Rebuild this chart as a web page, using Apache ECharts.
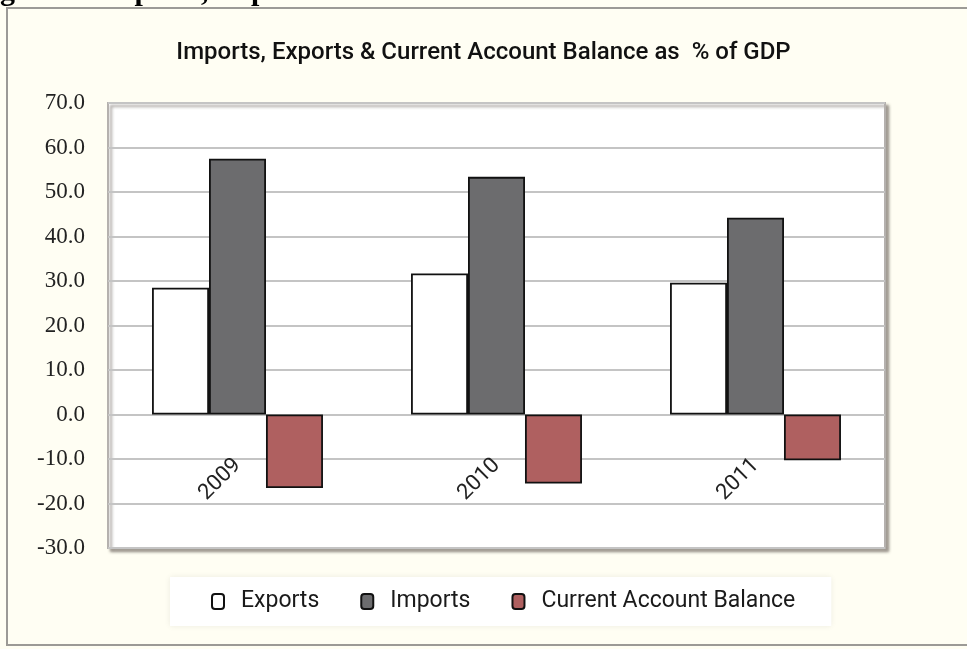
<!DOCTYPE html>
<html>
<head>
    <meta charset="utf-8">
    <title>Imports, Exports & Current Account Balance</title>
    <script src="https://cdn.jsdelivr.net/npm/echarts@6/dist/echarts.min.js"></script>
    <style type="text/css">
        html, body { margin: 0; padding: 0; background: #fffef3; }
        #main { width: 967px; height: 649px; }
    </style>
</head>
<body>
<div id="main"></div>

<script type="text/javascript">
    // data
    var years = ['2009', '2010', '2011'];
    var exportsPct = [28.5, 31.7, 29.6];
    var importsPct = [57.5, 53.4, 44.2];
    var cabPct = [-16.5, -15.5, -10.3];
    var yTicks = { min: -30, max: 70, step: 10 };

    var sans = 'Roboto, "Noto Sans", sans-serif';
    var serif = '"Liberation Serif", "DejaVu Serif", serif';

    var myChart = echarts.init(document.getElementById('main'));

    function barStyle(fill) {
        return { color: fill, borderColor: '#111', borderWidth: 1.8 };
    }

    myChart.setOption({
        backgroundColor: '#fffef3',
        animation: false,
        title: {
            text: 'Imports, Exports & Current Account Balance as  % of GDP',
            left: 'center',
            top: 36,
            textStyle: { fontFamily: sans, fontSize: 24, fontWeight: 500, color: '#111' }
        },
        graphic: [
            // page caption, cut off at the top edge
            { type: 'text', x: 0, y: 7.5, z: 10, silent: true,
              style: { text: 'gure 3: Imports, Exports and Current Account Balance', fill: '#000',
                       font: 'bold 30px ' + serif, verticalAlign: 'bottom' } },
            { type: 'rect', shape: { x: 7, y: 8, width: 980, height: 637 },
              style: { fill: 'none', stroke: '#9c9a96', lineWidth: 2 }, z: -1 }
        ],
        grid: {
            left: 108, right: 82, top: 103, bottom: 101,
            show: true,
            backgroundColor: '#ffffff',
            borderColor: '#b5b1ae',
            borderWidth: 2,
            shadowColor: 'rgba(90,80,75,0.55)',
            shadowBlur: 3,
            shadowOffsetX: 3,
            shadowOffsetY: 3
        },
        legend: {
            data: ['Exports', 'Imports', 'Current Account Balance'],
            left: 170,
            top: 577,
            backgroundColor: '#ffffff',
            padding: [13, 36, 13, 41],
            itemGap: 41,
            itemWidth: 12,
            itemHeight: 15,
            shadowColor: 'rgba(0,0,0,0.08)',
            shadowBlur: 6,
            textStyle: { fontFamily: sans, fontSize: 23, color: '#1a1a1a', padding: [0, 0, 0, 12] }
        },
        xAxis: {
            type: 'category',
            data: years,
            axisLine: { onZero: false, show: false },
            axisTick: { show: false },
            axisLabel: {
                rotate: 45,
                margin: -86,
                fontFamily: sans,
                fontSize: 22,
                color: '#222'
            }
        },
        yAxis: {
            type: 'value',
            min: yTicks.min,
            max: yTicks.max,
            interval: yTicks.step,
            axisLine: { show: false },
            axisTick: { show: false },
            splitLine: { lineStyle: { color: '#c4c4c4', width: 2 } },
            axisLabel: {
                margin: 23,
                fontFamily: serif,
                fontSize: 23,
                color: '#222',
                formatter: function (v) { return v.toFixed(1); }
            }
        },
        series: [
            { name: 'Exports', type: 'bar', data: exportsPct, barGap: '0%', barCategoryGap: '34%',
              itemStyle: barStyle('#ffffff') },
            { name: 'Imports', type: 'bar', data: importsPct, itemStyle: barStyle('#6c6c6e') },
            { name: 'Current Account Balance', type: 'bar', data: cabPct, itemStyle: barStyle('#af6060') }
        ]
    });
</script>
</body>
</html>
